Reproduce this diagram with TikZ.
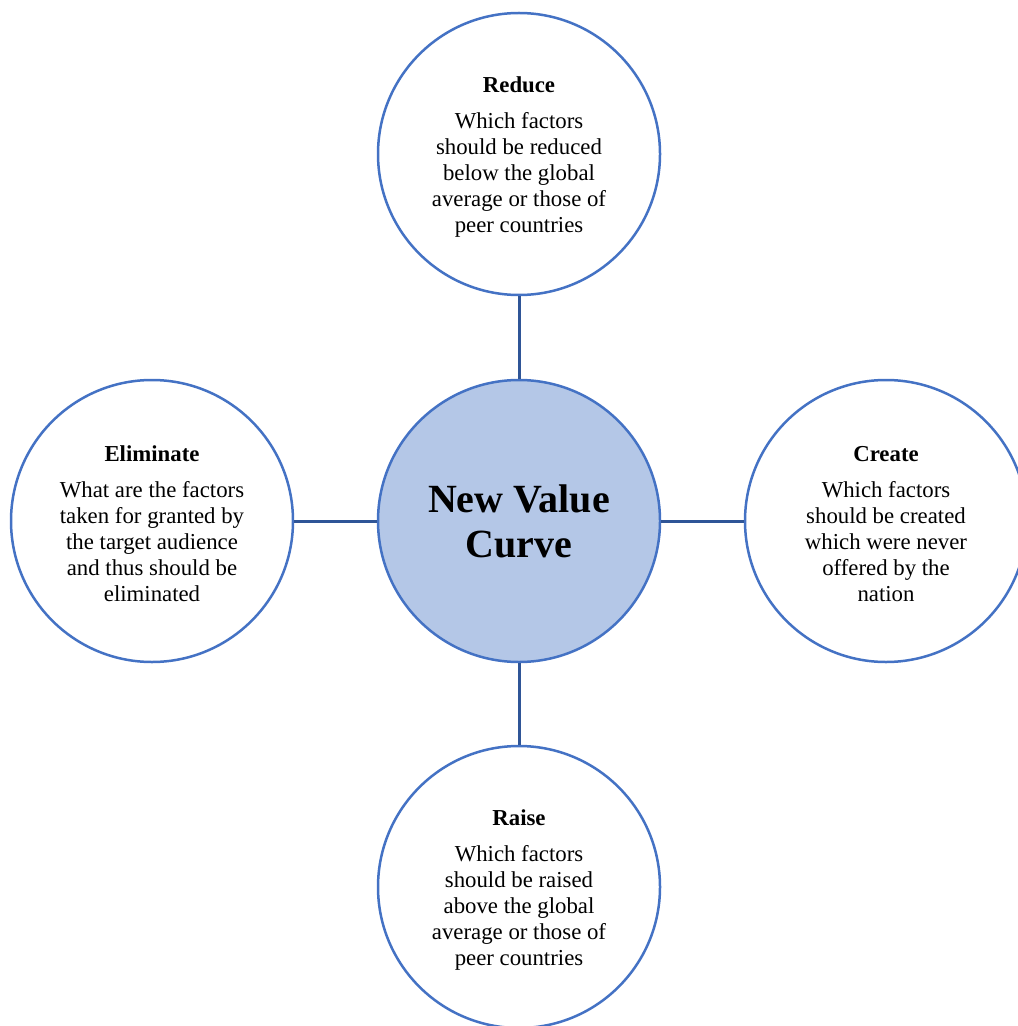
\documentclass[tikz,border=0pt]{standalone}
\usepackage{fontspec}
\setmainfont{Liberation Serif}
\definecolor{ringblue}{HTML}{4472C4}
\definecolor{linkblue}{HTML}{2F5597}
\definecolor{hubfill}{HTML}{B4C7E7}
\tikzset{
  ring/.style={circle, draw=ringblue, line width=1.25pt, fill=white, minimum size=141pt, inner sep=0pt},
  hub/.style={ring, fill=hubfill},
  body/.style={align=center, font=\fontsize{11.4}{13}\selectfont, inner sep=0pt},
  hubtext/.style={align=center, font=\fontsize{20}{22.5}\selectfont\bfseries, inner sep=0pt},
  link/.style={draw=linkblue, line width=1.5pt}
}
\begin{document}
\begin{tikzpicture}[x=0.5pt,y=-0.5pt]
\useasboundingbox (0,0) rectangle (1017,1026);
\node[hub] (hub) at (519,521) {};
\node[ring] (top) at (519,154) {};
\node[ring] (left) at (152,521) {};
\node[ring] (right) at (886,521) {};
\node[ring] (bottom) at (519,887) {};
\draw[link] (hub) -- (top);
\draw[link] (hub) -- (left);
\draw[link] (hub) -- (right);
\draw[link] (hub) -- (bottom);
\node[hubtext] (hubt) at (519,521) {New Value\\Curve};
\node[body] (topt) at (519,157) {\textbf{Reduce}\\[5pt]Which factors\\should be reduced\\below the global\\average or those of\\peer countries};
\node[body] (leftt) at (152,524) {\textbf{Eliminate}\\[5pt]What are the factors\\taken for granted by\\the target audience\\and thus should be\\eliminated};
\node[body] (rightt) at (886,524) {\textbf{Create}\\[5pt]Which factors\\should be created\\which were never\\offered by the\\nation};
\node[body] (bottomt) at (519,890) {\textbf{Raise}\\[5pt]Which factors\\should be raised\\above the global\\average or those of\\peer countries};
\end{tikzpicture}
\end{document}
